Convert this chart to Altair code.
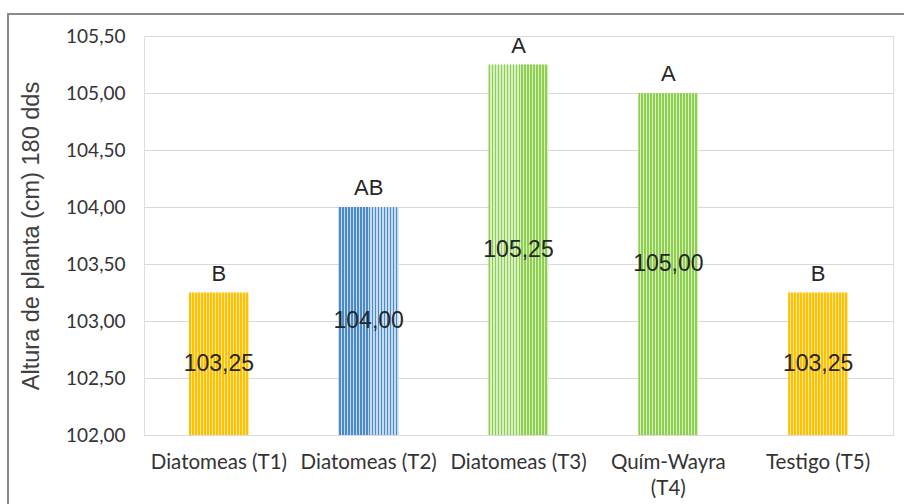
import altair as alt
import pandas as pd

# Plant height at 180 days after sowing, by treatment
categorias = ["Diatomeas (T1)", "Diatomeas (T2)", "Diatomeas (T3)", "Quím-Wayra (T4)", "Testigo (T5)"]
alturas = [103.25, 104.00, 105.25, 105.00, 103.25]
letras = ["B", "AB", "A", "A", "B"]
grupos = ["amarillo", "azul", "verde", "verde", "amarillo"]
marcas_y = [102.0, 102.5, 103.0, 103.5, 104.0, 104.5, 105.0, 105.5]

BASE = 102.0

df = pd.DataFrame({
    "tratamiento": categorias,
    "altura": alturas,
    "letra": letras,
    "grupo": grupos,
})


def rayas(oscuro, claro, n=20):
    """Vertical stripe fill built from a horizontal linear gradient with hard stops."""
    stops = []
    for i in range(n):
        a, b, c = i / n, (i + 0.6) / n, (i + 1) / n
        stops += [
            alt.GradientStop(offset=a, color=oscuro),
            alt.GradientStop(offset=b, color=oscuro),
            alt.GradientStop(offset=b, color=claro),
            alt.GradientStop(offset=c, color=claro),
        ]
    return alt.LinearGradient(gradient="linear", stops=stops, x1=0, x2=1, y1=0, y2=0)


relleno = {
    "amarillo": rayas("#FFC000", "#FFE699"),
    "azul": rayas("#4A8AC8", "#C5DCF0"),
    "verde": rayas("#8FCF4E", "#D8EEC4"),
}

x_enc = alt.X(
    "tratamiento:N",
    sort=categorias,
    title=None,
    scale=alt.Scale(paddingInner=0.6, paddingOuter=0.3),
    axis=alt.Axis(
        labelAngle=0,
        labelFont="Lato",
        labelFontSize=20.5,
        labelColor="#333333",
        labelPadding=17,
        labelLimit=220,
        labelLineHeight=26,
        labelExpr="indexof(datum.label, 'Wayra') >= 0 ? split(datum.label, ' ') : datum.label",
        ticks=False,
        domain=True,
        domainColor="#d9d9d9",
        domainWidth=1,
        grid=False,
    ),
)

y_scale = alt.Scale(domain=[BASE, 105.5], zero=False, nice=False)
y_enc = alt.Y(
    "altura:Q",
    scale=y_scale,
    title="Altura de planta (cm) 180 dds",
    axis=alt.Axis(
        values=marcas_y,
        labelExpr="replace(format(datum.value, '.2f'), '.', ',')",
        labelFont="Lato",
        labelFontSize=19,
        labelColor="#333333",
        labelPadding=19,
        ticks=False,
        domain=False,
        gridColor="#d9d9d9",
        gridWidth=1,
        titleFont="Liberation Sans",
        titleFontSize=23.5,
        titleFontWeight="normal",
        titleColor="#404040",
        titlePadding=22,
    ),
)

base = alt.Chart(df).encode(x=x_enc)

barras = [
    base.transform_filter(alt.datum.grupo == g)
    .mark_bar(color=relleno[g], stroke=None)
    .encode(y=y_enc, y2=alt.Y2Datum(BASE))
    for g in ["amarillo", "azul", "verde"]
]

valores = (
    base.transform_calculate(
        medio=f"(datum.altura + {BASE}) / 2",
        etiqueta="replace(format(datum.altura, '.2f'), '.', ',')",
    )
    .mark_text(font="Liberation Sans", fontSize=23, color="#262626", baseline="middle")
    .encode(y=alt.Y("medio:Q", scale=y_scale), text="etiqueta:N")
)

letras_capa = (
    base.mark_text(font="Liberation Sans", fontSize=22, color="#262626", baseline="middle", dy=-19)
    .encode(y=alt.Y("altura:Q", scale=y_scale), text="letra:N")
)

# Outer chart frame
marco = (
    alt.Chart(pd.DataFrame({"marco": [0]}))
    .mark_rect(fill=None, stroke="#8a8a8a", strokeWidth=2)
    .encode(x=alt.value(-136), x2=alt.value(800), y=alt.value(-22), y2=alt.value(520))
)

chart = (
    alt.layer(*barras, valores, letras_capa, marco)
    .resolve_scale(y="shared")
    .properties(
        width=749,
        height=399,
        autosize=alt.AutoSizeParams(type="none"),
        padding={"left": 144, "top": 36, "right": 11, "bottom": 69},
    )
    .configure_view(stroke=None)
    .configure(background="white")
)

chart.save("out.html", embed_options={"renderer": "svg", "actions": False})
